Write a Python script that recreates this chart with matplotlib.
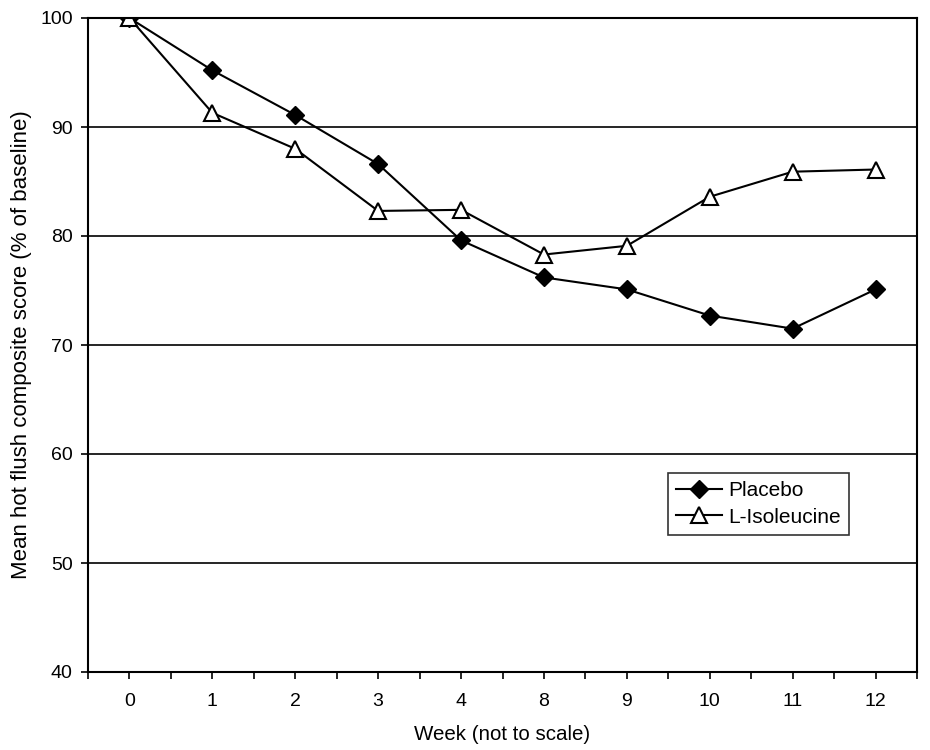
import matplotlib
matplotlib.use("Agg")
import matplotlib.pyplot as plt
import numpy as np

weeks = ["0", "1", "2", "3", "4", "8", "9", "10", "11", "12"]
placebo = [100, 95.2, 91.1, 86.6, 79.6, 76.2, 75.1, 72.7, 71.5, 75.1]
isoleucine = [100, 91.3, 88.0, 82.3, 82.4, 78.3, 79.1, 83.6, 85.9, 86.1]
yticks = [40, 50, 60, 70, 80, 90, 100]

plt.rcParams['font.family'] = ['Liberation Sans', 'DejaVu Sans']

fig = plt.figure(figsize=(9.3, 7.5), dpi=100)
ax = fig.add_axes([88/930, 1 - 672/750, (917-88)/930, (672-18)/750])

x = np.arange(len(weeks))
ax.plot(x, placebo, color='black', lw=1.5, marker='D', ms=9, mfc='black', mec='black', label='Placebo')
ax.plot(x, isoleucine, color='black', lw=1.5, marker='^', ms=11, mfc='white', mec='black', mew=1.5, label='L-Isoleucine')

ax.set_xlim(-0.5, len(weeks) - 0.5)
ax.set_ylim(40, 100)
ax.set_yticks(yticks)
ax.set_xticks(x)
ax.set_xticklabels(weeks)
ax.set_xticks(np.arange(-0.5, len(weeks)), minor=True)
ax.tick_params(axis='x', which='both', direction='out', length=5, width=1.2, labelsize=14, pad=10)
ax.tick_params(axis='y', direction='out', length=5, width=1.2, labelsize=14, pad=6)
ax.yaxis.grid(True, color='black', lw=1.2)
for s in ax.spines.values():
    s.set_linewidth(1.5)
    s.set_color('black')
ax.set_axisbelow(True)

ax.set_xlabel('Week (not to scale)', fontsize=14.8, labelpad=11)
ax.set_ylabel('Mean hot flush composite score (% of baseline)', fontsize=16, labelpad=6)

leg = ax.legend(loc='upper left', bbox_to_anchor=((668-88)/829, 1 - (473-18)/654), fontsize=15,
                frameon=True, fancybox=False, edgecolor='black', handlelength=2.2,
                borderpad=0.4, labelspacing=0.35, handletextpad=0.3, borderaxespad=0)
leg.get_frame().set_linewidth(1.2)

fig.savefig('out.png', dpi=100)
